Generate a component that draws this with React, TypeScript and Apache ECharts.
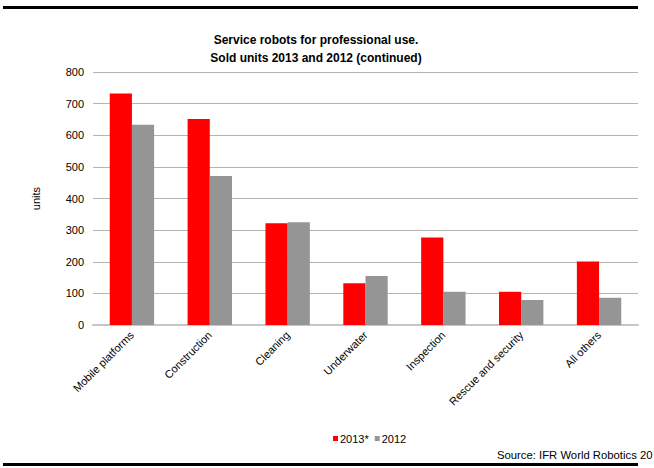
import React, { useEffect, useRef } from "react";
import * as echarts from "echarts";

const categories = [
  "Mobile platforms",
  "Construction",
  "Cleaning",
  "Underwater",
  "Inspection",
  "Rescue and security",
  "All others",
];
const sold2013 = [732, 651, 322, 132, 277, 105, 201];
const sold2012 = [633, 471, 325, 155, 105, 79, 86];
const yTicks = [0, 100, 200, 300, 400, 500, 600, 700, 800];

const titleLines = ["Service robots for professional use.", "Sold units 2013 and 2012 (continued)"];
const sourceText = "Source: IFR World Robotics 20";

export default function App() {
  const ref = useRef<HTMLDivElement>(null);
  useEffect(() => {
    if (!ref.current) return;
    const chart = echarts.init(ref.current, null, { renderer: "svg" });
    const font = "'Liberation Sans', Arial, sans-serif";
    chart.setOption({
      animation: false,
      backgroundColor: "#ffffff",
      textStyle: { fontFamily: font },
      title: {
        text: titleLines.join("\n"),
        left: 311,
        textAlign: "center",
        top: 26,
        textStyle: { fontSize: 12, fontWeight: "bold", color: "#000", lineHeight: 18, fontFamily: font },
      },
      legend: {
        top: 428,
        left: 328,
        itemWidth: 5,
        itemHeight: 5,
        itemGap: 6,
        icon: "rect",
        textStyle: { fontSize: 11, color: "#000", padding: [0, 0, 0, -3] },
        data: ["2013*", "2012"],
      },
      grid: { left: 93, right: 16, top: 72, bottom: 143, containLabel: false },
      xAxis: {
        type: "category",
        data: categories,
        axisLine: { lineStyle: { color: "#c6c6c6", width: 2 } },
        axisTick: { show: false },
        axisLabel: { rotate: 45, fontSize: 11, color: "#000", margin: 8, interval: 0 },
      },
      yAxis: {
        type: "value",
        min: yTicks[0],
        max: yTicks[yTicks.length - 1],
        interval: 100,
        name: "units",
        nameLocation: "middle",
        nameRotate: 90,
        nameGap: 52,
        nameTextStyle: { fontSize: 11, color: "#000" },
        axisLine: { show: false },
        axisTick: { show: false },
        axisLabel: { fontSize: 11, color: "#000", margin: 9 },
        splitLine: { lineStyle: { color: "#b4b4b4", width: 1 } },
      },
      series: [
        {
          name: "2013*",
          type: "bar",
          data: sold2013,
          itemStyle: { color: "#ff0000" },
          barGap: "0%",
          barCategoryGap: "43%",
        },
        {
          name: "2012",
          type: "bar",
          data: sold2012,
          itemStyle: { color: "#959595" },
          barGap: "0%",
          barCategoryGap: "43%",
        },
      ],
      graphic: [
        { type: "rect", shape: { x: 3, y: 6, width: 635, height: 3 }, style: { fill: "#000" } },
        { type: "rect", shape: { x: 3, y: 463, width: 635, height: 3 }, style: { fill: "#000" } },
        {
          type: "text",
          x: 497,
          y: 449,
          style: { text: sourceText, fontSize: 11.3, fill: "#000", fontFamily: font },
        },
      ],
    });
    return () => chart.dispose();
  }, []);
  return (
    <div
      ref={ref}
      style={{ position: "fixed", left: 0, top: 0, width: 654, height: 468, background: "#fff" }}
    />
  );
}
